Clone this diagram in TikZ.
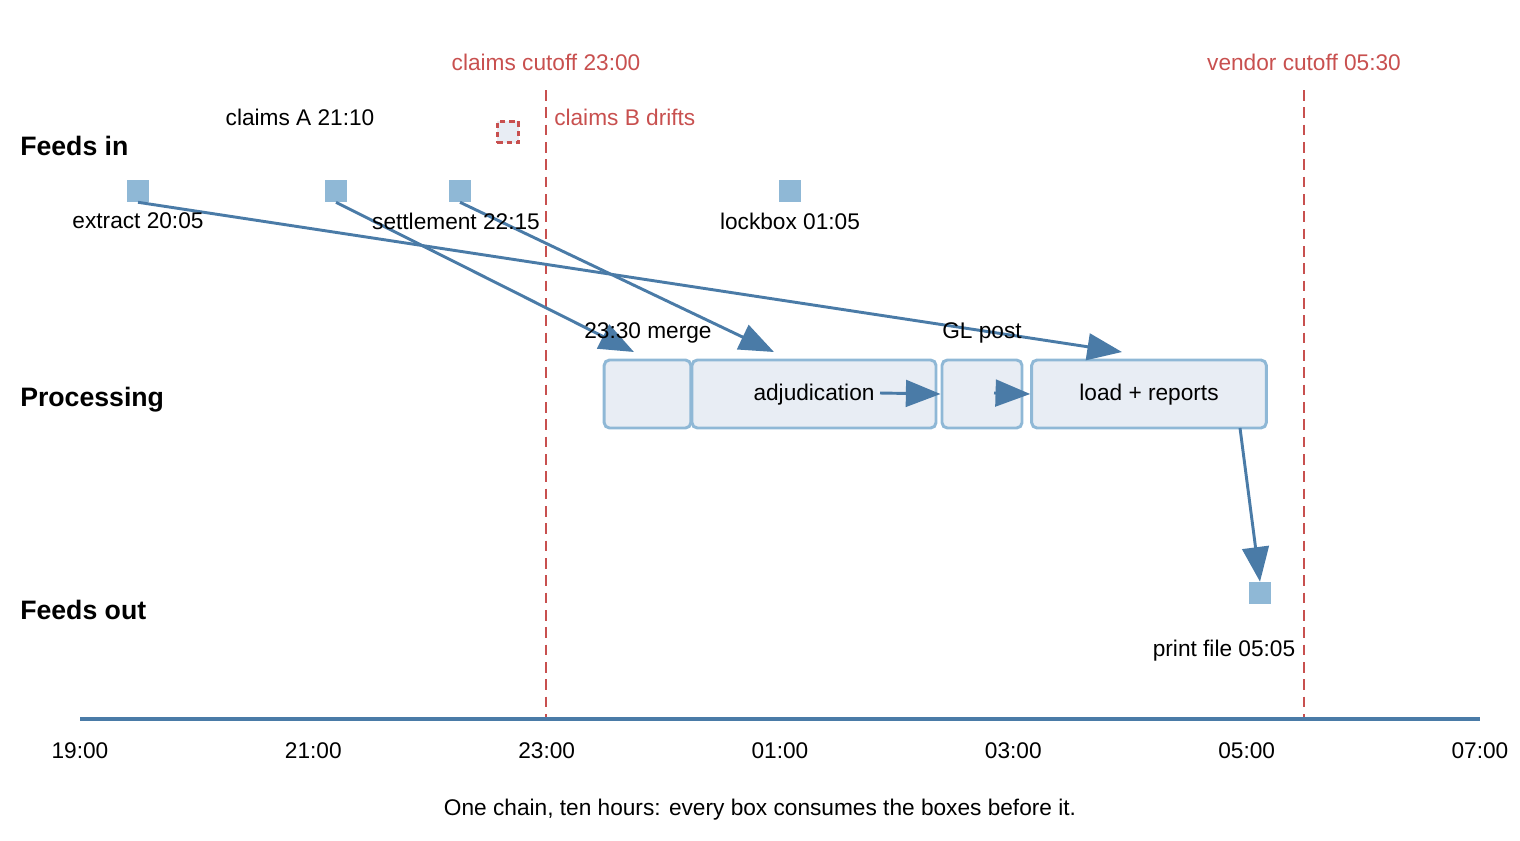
\documentclass[tikz,border=0pt]{standalone}
\usepackage{fontspec}
\setmainfont{Liberation Sans}
\usetikzlibrary{arrows.meta}
\definecolor{cred}{HTML}{C8504F}
\definecolor{cblue}{HTML}{4A7BA7}
\definecolor{clight}{HTML}{8FB8D6}
\definecolor{cfill}{HTML}{E8EDF4}
\begin{document}
\begin{tikzpicture}[x=0.75pt,y=-0.75pt,
  txt/.style={font=\fontsize{17}{20}\selectfont,inner sep=0pt},
  lane/.style={font=\bfseries\fontsize{20}{24}\selectfont,inner sep=0pt,anchor=west},
  redtxt/.style={txt,text=cred},
  cut/.style={cred,line width=2.2pt,dash pattern=on 8pt off 5pt},
  feed/.style={fill=clight,draw=none,minimum size=16.5pt,inner sep=0pt},
  proc/.style={fill=cfill,draw=clight,line width=2.2pt,rounded corners=4pt,minimum height=51pt,inner sep=0pt},
  arr/.style={cblue,line width=2.2pt,-{Triangle[length=26pt,width=20pt]}}]
\useasboundingbox (0,0) rectangle (1520,840);
% cutoffs
\coordinate (c1t) at (546,90); \coordinate (c1b) at (546,718);
\coordinate (c2t) at (1304,90); \coordinate (c2b) at (1304,718);
\draw[cut] (c1t) -- (c1b);
\draw[cut] (c2t) -- (c2b);
\node[redtxt] (cl1) at (546,62) {claims cutoff 23:00};
\node[redtxt] (cl2) at (1304,62) {vendor cutoff 05:30};
\node[redtxt,anchor=west] (drift) at (554,117) {claims B drifts};
\node[fill=cfill,draw=cred,line width=2pt,dash pattern=on 4pt off 3pt,minimum size=16pt,inner sep=0pt] (cb) at (508,132) {};
% lanes
\node[lane] (l1) at (20,146) {Feeds in};
\node[lane] (l2) at (20,400) {Processing};
\node[lane] (l3) at (20,610) {Feeds out};
% feeds
\node[feed] (f1) at (138,191) {};
\node[feed] (f2) at (336,191) {};
\node[feed] (f3) at (460,191) {};
\node[feed] (f4) at (790,191) {};
\node[feed] (fo) at (1260,593) {};
% processing boxes
\node[proc,minimum width=65pt] (p1) at (647.5,394) {};
\node[proc,minimum width=183pt] (p2) at (814,394) {};
\node[proc,minimum width=60pt] (p3) at (982,394) {};
\node[proc,minimum width=176pt] (p4) at (1149,394) {};
% arrows
\draw[arr] (f1.south) -- (1122,352);
\draw[arr] (f2.south) -- (634,352);
\draw[arr] (f3.south) -- (774,352);
\draw[arr] (880,393) -- (p3.west);
\draw[arr] (994,393) -- (p4.west);
\draw[arr] (1240,428) -- (fo.north);
% labels
\node[txt] at (138,221) {extract 20:05};
\node[txt] at (300,117) {claims A 21:10};
\node[txt] at (456,221) {settlement 22:15};
\node[txt] at (790,221) {lockbox 01:05};
\node[txt] at (1224,651) {print file 05:05};
\node[txt] at (648,333) {23:30 merge};
\node[txt] at (982,333) {GL post};
\node[txt] at (814,395) {adjudication};
\node[txt] at (1149,395) {load + reports};
% axis
\coordinate (a0) at (80,719); \coordinate (a1) at (1480,719);
\draw[cblue,line width=2.4pt] (a0) -- (a1);
\foreach \t [count=\i from 0] in {19:00,21:00,23:00,01:00,03:00,05:00,07:00}
  \node[txt] at ({80+\i*233.33},751) {\t};
\node[txt] at (760,810) {One chain, ten hours: every box consumes the boxes before it.};
\end{tikzpicture}
\end{document}
